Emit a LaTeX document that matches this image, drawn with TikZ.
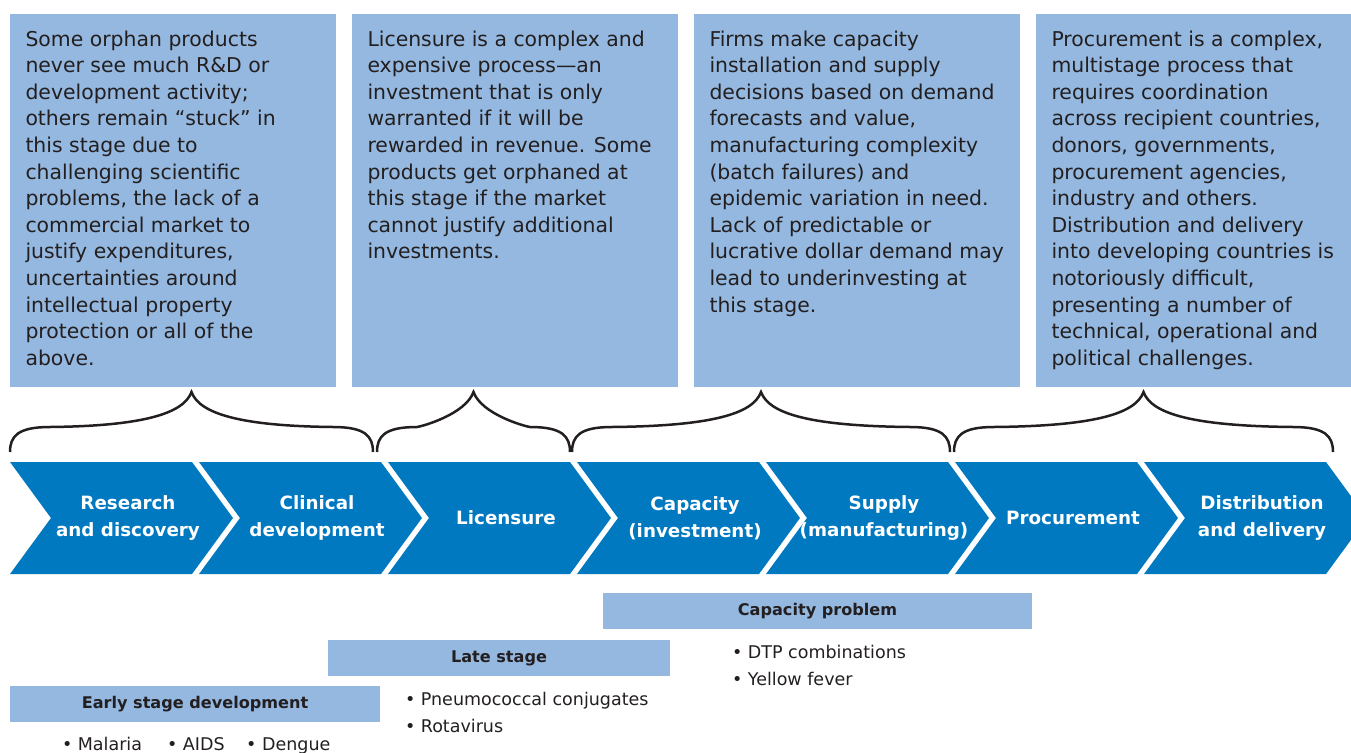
\documentclass[tikz,border=0pt]{standalone}
\usepackage{fontspec}
\setmainfont{DejaVu Sans}
\usetikzlibrary{positioning, shapes.symbols}

\definecolor{paleblue}{RGB}{148,184,224}
\definecolor{stageblue}{RGB}{0,121,193}
\definecolor{inkgrey}{RGB}{35,31,32}

% curly brace over the chevrons, from x=#1 to x=#2
\newcommand{\bracket}[2]{%
    \draw [bracestroke]
        (#1,452) .. controls (#1,436) and ({#1+8},427) .. ({#1+40},427)
        .. controls ({(#1+#2)/2-50},426) and ({(#1+#2)/2-8},414) .. ({(#1+#2)/2},392)
        .. controls ({(#1+#2)/2+8},414) and ({(#1+#2)/2+50},426) .. ({#2-40},427)
        .. controls ({#2-8},427) and (#2,436) .. (#2,452);}

\begin{document}
\begin{tikzpicture}[x=1pt,y=-1pt,inner sep=0pt,node distance=189pt,
    infobox/.style={rectangle,fill=paleblue,minimum width=326pt,minimum height=373pt},
    infotext/.style={align=left,text=inkgrey,font=\fontsize{20.4}{26.6}\selectfont},
    stage/.style={signal,signal to=east,signal from=west,signal pointer angle=107.6,
        fill=stageblue,minimum width=223pt,minimum height=112pt},
    stagetext/.style={align=center,xshift=6.5pt,text=white,
        font=\fontsize{18.3}{27}\selectfont\bfseries},
    barbox/.style={rectangle,fill=paleblue,minimum height=36pt,text=inkgrey,
        font=\fontsize{16.1}{20}\selectfont\bfseries},
    bullets/.style={align=left,text=inkgrey,font=\fontsize{17.5}{26.6}\selectfont},
    bracestroke/.style={draw=inkgrey,line width=2.5pt}]
    \useasboundingbox (0,0) rectangle (1351,752);

    % text boxes along the top
    \node [infobox] (B1) at (172.5,200.5) {};
    \node [infobox,right of=B1,node distance=342pt] (B2) {};
    \node [infobox,right of=B2,node distance=342pt] (B3) {};
    \node [infobox,right of=B3,node distance=342pt] (B4) {};
    \node [infotext,below right=13.4pt and 16pt of B1.north west] (T1)
        {\strut Some orphan products\\never see much R\&D or\\development activity;\\
         others remain “stuck” in\\this stage due to\\challenging scientific\\
         problems, the lack of a\\commercial market to\\justify expenditures,\\
         uncertainties around\\intellectual property\\protection or all of the\\above.};
    \node [infotext,below right=13.4pt and 16pt of B2.north west] (T2)
        {\strut Licensure is a complex and\\expensive process—an\\investment that is only\\
         warranted if it will be\\rewarded in revenue. Some\\products get orphaned at\\
         this stage if the market\\cannot justify additional\\investments.};
    \node [infotext,below right=13.4pt and 16pt of B3.north west] (T3)
        {\strut Firms make capacity\\installation and supply\\decisions based on demand\\
         forecasts and value,\\manufacturing complexity\\(batch failures) and\\
         epidemic variation in need.\\Lack of predictable or\\lucrative dollar demand may\\
         lead to underinvesting at\\this stage.};
    \node [infotext,below right=13.4pt and 16pt of B4.north west] (T4)
        {\strut Procurement is a complex,\\multistage process that\\requires coordination\\
         across recipient countries,\\donors, governments,\\procurement agencies,\\
         industry and others.\\Distribution and delivery\\into developing countries is\\
         notoriously difficult,\\presenting a number of\\technical, operational and\\
         political challenges.};

    % braces
    \bracket{10}{373}
    \bracket{377}{570}
    \bracket{572}{950}
    \bracket{954}{1333}

    % value chain
    \node [stage,label={[stagetext]center:{Research\\and discovery}}] (S1) at (121.5,518) {};
    \node [stage,right of=S1,label={[stagetext]center:{Clinical\\development}}] (S2) {};
    \node [stage,right of=S2,label={[stagetext]center:{Licensure}}] (S3) {};
    \node [stage,right of=S3,label={[stagetext]center:{Capacity\\(investment)}}] (S4) {};
    \node [stage,right of=S4,label={[stagetext]center:{Supply\\(manufacturing)}}] (S5) {};
    \node [stage,right of=S5,label={[stagetext]center:{Procurement}}] (S6) {};
    \node [stage,right of=S6,label={[stagetext]center:{Distribution\\and delivery}}] (S7) {};

    % problem bars and examples
    \node [barbox,minimum width=429pt] (capacity) at (817.5,611) {Capacity problem};
    \node [barbox,minimum width=342pt] (late) at (499,658) {Late stage};
    \node [barbox,minimum width=370pt] (early) at (195,704) {Early stage development};
    \node [bullets,below right=10.4pt and 129pt of capacity.south west] (capacitylist)
        {\strut • DTP combinations\\• Yellow fever};
    \node [bullets,below right=10.4pt and 77pt of late.south west] (latelist)
        {\strut • Pneumococcal conjugates\\• Rotavirus};
    \node [bullets,below right=9.4pt and 52pt of early.south west] (earlylist)
        {\strut • Malaria\hspace{25pt}• AIDS\hspace{21.5pt}• Dengue};
\end{tikzpicture}
\end{document}
